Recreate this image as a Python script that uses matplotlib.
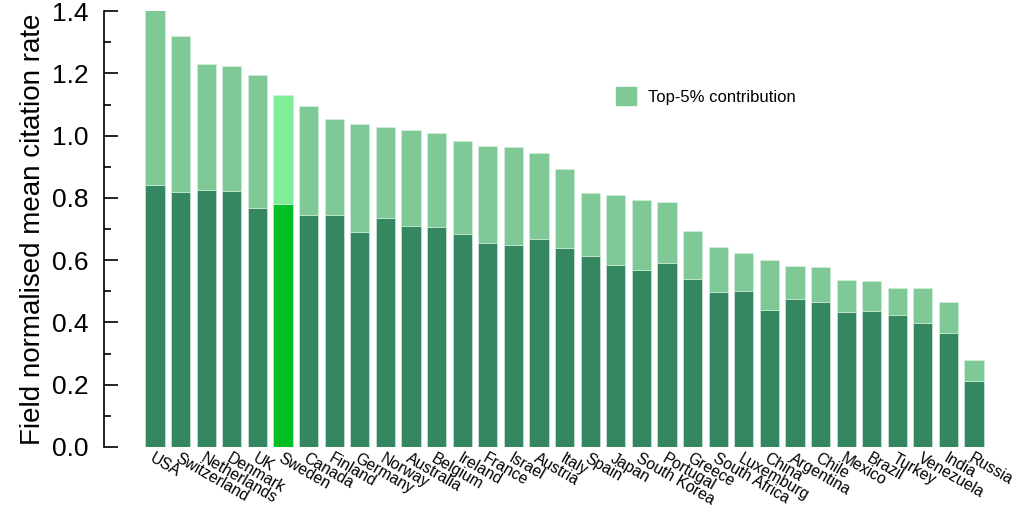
import numpy as np
import matplotlib
matplotlib.use("Agg")
import matplotlib.pyplot as plt
from matplotlib.patches import Patch

countries = ["USA", "Switzerland", "Netherlands", "Denmark", "UK", "Sweden", "Canada",
             "Finland", "Germany", "Norway", "Australia", "Belgium", "Ireland", "France",
             "Israel", "Austria", "Italy", "Spain", "Japan", "South Korea", "Portugal",
             "Greece", "South Africa", "Luxemburg", "China", "Argentina", "Chile",
             "Mexico", "Brazil", "Turkey", "Venezuela", "India", "Russia"]
total = [1.413, 1.320, 1.230, 1.223, 1.195, 1.130, 1.095, 1.053, 1.037, 1.028, 1.018,
         1.008, 0.983, 0.966, 0.963, 0.944, 0.893, 0.816, 0.809, 0.793, 0.787, 0.694,
         0.642, 0.623, 0.600, 0.581, 0.578, 0.536, 0.533, 0.511, 0.511, 0.466, 0.279]
base = [0.841, 0.819, 0.825, 0.822, 0.767, 0.780, 0.745, 0.745, 0.690, 0.735, 0.710,
        0.706, 0.684, 0.655, 0.649, 0.668, 0.639, 0.613, 0.584, 0.568, 0.591, 0.540,
        0.498, 0.501, 0.440, 0.475, 0.466, 0.434, 0.437, 0.424, 0.398, 0.366, 0.212]
highlight = "Sweden"

DARK, LIGHT = "#348760", "#7ec996"
HI_DARK, HI_LIGHT = "#02be24", "#80ee98"

plt.rcParams["font.family"] = ["Liberation Sans", "DejaVu Sans"]

fig = plt.figure(figsize=(10.18, 5.09), dpi=100)
ax = fig.add_axes([0.102, 0.122, 0.88, 0.856])

x = np.arange(len(countries))
top = np.array(total) - np.array(base)
dark_cols = [HI_DARK if c == highlight else DARK for c in countries]
light_cols = [HI_LIGHT if c == highlight else LIGHT for c in countries]
ax.bar(x, base, width=0.75, color=dark_cols, edgecolor="#d8f0e0", linewidth=0.4)
ax.bar(x, top, bottom=base, width=0.75, color=light_cols, edgecolor="#d8f0e0", linewidth=0.4)

ax.set_xlim(-2, 33.0)
ax.set_ylim(0, 1.4)
for s in ["top", "right", "bottom"]:
    ax.spines[s].set_visible(False)
ax.spines["left"].set_linewidth(1.2)
ax.set_yticks(np.arange(0, 1.41, 0.2))
ax.set_yticklabels([f"{v:.1f}" for v in np.arange(0, 1.41, 0.2)], fontsize=19)
ax.set_yticks(np.arange(0.1, 1.4, 0.2), minor=True)
ax.tick_params(axis="y", which="major", direction="in", length=10, width=1.2, pad=11)
ax.tick_params(axis="y", which="minor", direction="in", length=5, width=1.2)
ax.set_ylabel("Field normalised mean citation rate", fontsize=20, labelpad=4)

ax.set_xticks(x)
ax.set_xticklabels(countries, rotation=-30, ha="left", rotation_mode="anchor", fontsize=11.3)
ax.tick_params(axis="x", length=0, pad=3)

ax.legend(handles=[Patch(color=LIGHT, label="Top-5% contribution")], loc="upper left",
          bbox_to_anchor=(0.555, 0.86), frameon=False, fontsize=12, handlelength=1.2,
          handleheight=1.3, handletextpad=0.7)

fig.savefig("out.png", dpi=100)
